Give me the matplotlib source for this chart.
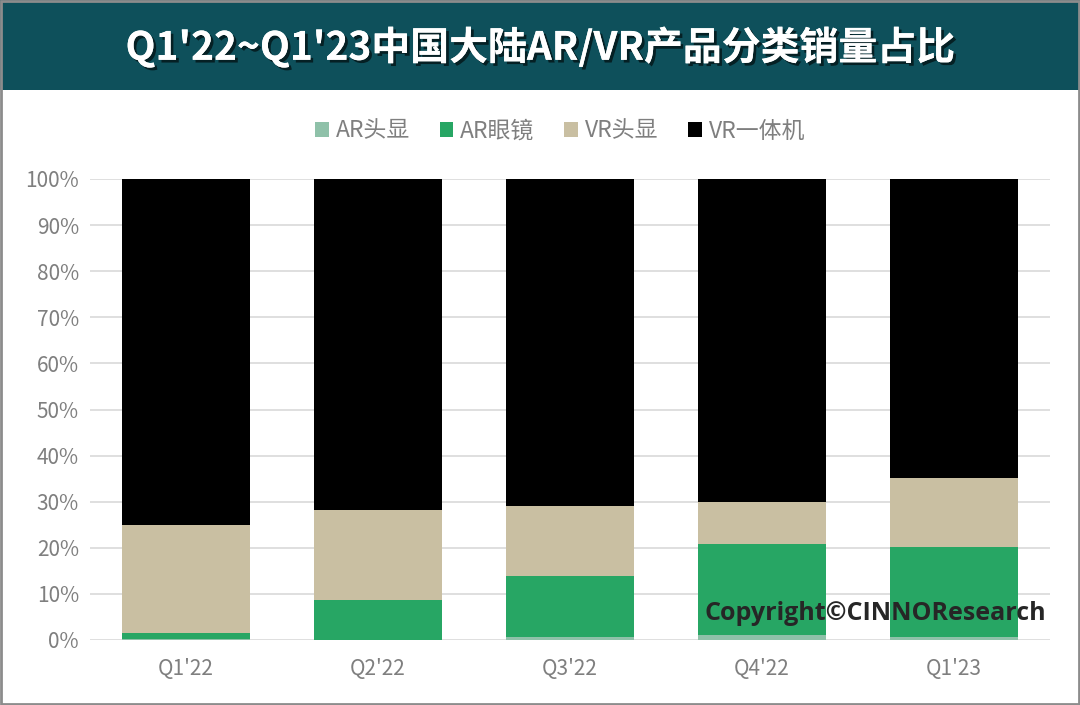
import matplotlib.pyplot as plt
import matplotlib.patheffects as pe
from matplotlib.patches import Rectangle

plt.rcParams['font.family'] = ['Noto Sans CJK SC', 'DejaVu Sans']

quarters = ["Q1'22", "Q2'22", "Q3'22", "Q4'22", "Q1'23"]
ar_head = [0.2, 0.1, 0.6, 1.0, 0.7]
ar_glass = [1.4, 8.6, 13.3, 19.8, 19.5]
vr_head = [23.3, 19.5, 15.2, 9.2, 14.9]
vr_aio = [75.1, 71.8, 70.9, 70.0, 64.9]

series = [("AR头显", ar_head, "#8fc1a9"),
          ("AR眼镜", ar_glass, "#27a664"),
          ("VR头显", vr_head, "#c9bfa2"),
          ("VR一体机", vr_aio, "#000000")]

fig = plt.figure(figsize=(10.8, 7.05), dpi=100)

# header band and border
fig.patches.append(Rectangle((0, 1 - 90 / 705), 1, 90 / 705, transform=fig.transFigure,
                             facecolor="#0e505b", edgecolor="none", zorder=0))
fig.patches.append(Rectangle((0.001, 0.001), 0.998, 0.998, transform=fig.transFigure,
                             facecolor="none", edgecolor="#8c8c8c", linewidth=2, zorder=5))
fig.text(0.5, 1 - 47 / 705, "Q1'22~Q1'23中国大陆AR/VR产品分类销量占比", color="white",
         fontsize=28, fontweight="bold", ha="center", va="center",
         path_effects=[pe.withSimplePatchShadow(offset=(2, -2), shadow_rgbFace="black", alpha=0.6),
                       pe.Normal()])

ax = fig.add_axes([90 / 1080, 1 - 640 / 705, 960 / 1080, (640 - 179) / 705])
x = range(len(quarters))
bottom = [0] * len(quarters)
for name, vals, col in series:
    ax.bar(x, vals, 0.67, bottom=bottom, color=col, label=name, zorder=3)
    bottom = [b + v for b, v in zip(bottom, vals)]

ax.set_xlim(-0.5, 4.5)
ax.set_ylim(0, 100)
ax.set_yticks(range(0, 101, 10))
ax.set_yticklabels([f"{t}%" for t in range(0, 101, 10)])
ax.set_xticks(list(x))
ax.set_xticklabels(quarters)
ax.grid(axis="y", color="#d9d9d9", linewidth=1.2, zorder=0)
for s in ax.spines.values():
    s.set_visible(False)
ax.tick_params(length=0, colors="#7f7f7f", labelsize=15)
ax.tick_params(axis="x", pad=13)
ax.tick_params(axis="y", pad=8)

fig.legend(loc="center", bbox_to_anchor=(560 / 1080, 1 - 131 / 705), ncol=4, frameon=False,
           fontsize=16.5, labelcolor="#7f7f7f", handlelength=0.6, handleheight=0.6,
           handletextpad=0.3, columnspacing=1.3)

fig.text(1046 / 1080, 1 - 614 / 705, "Copyright©CINNOResearch", color="#262626",
         fontsize=18, fontweight="bold", ha="right", va="center", family=["Open Sans", "DejaVu Sans"])

fig.savefig("out.png", dpi=100)
